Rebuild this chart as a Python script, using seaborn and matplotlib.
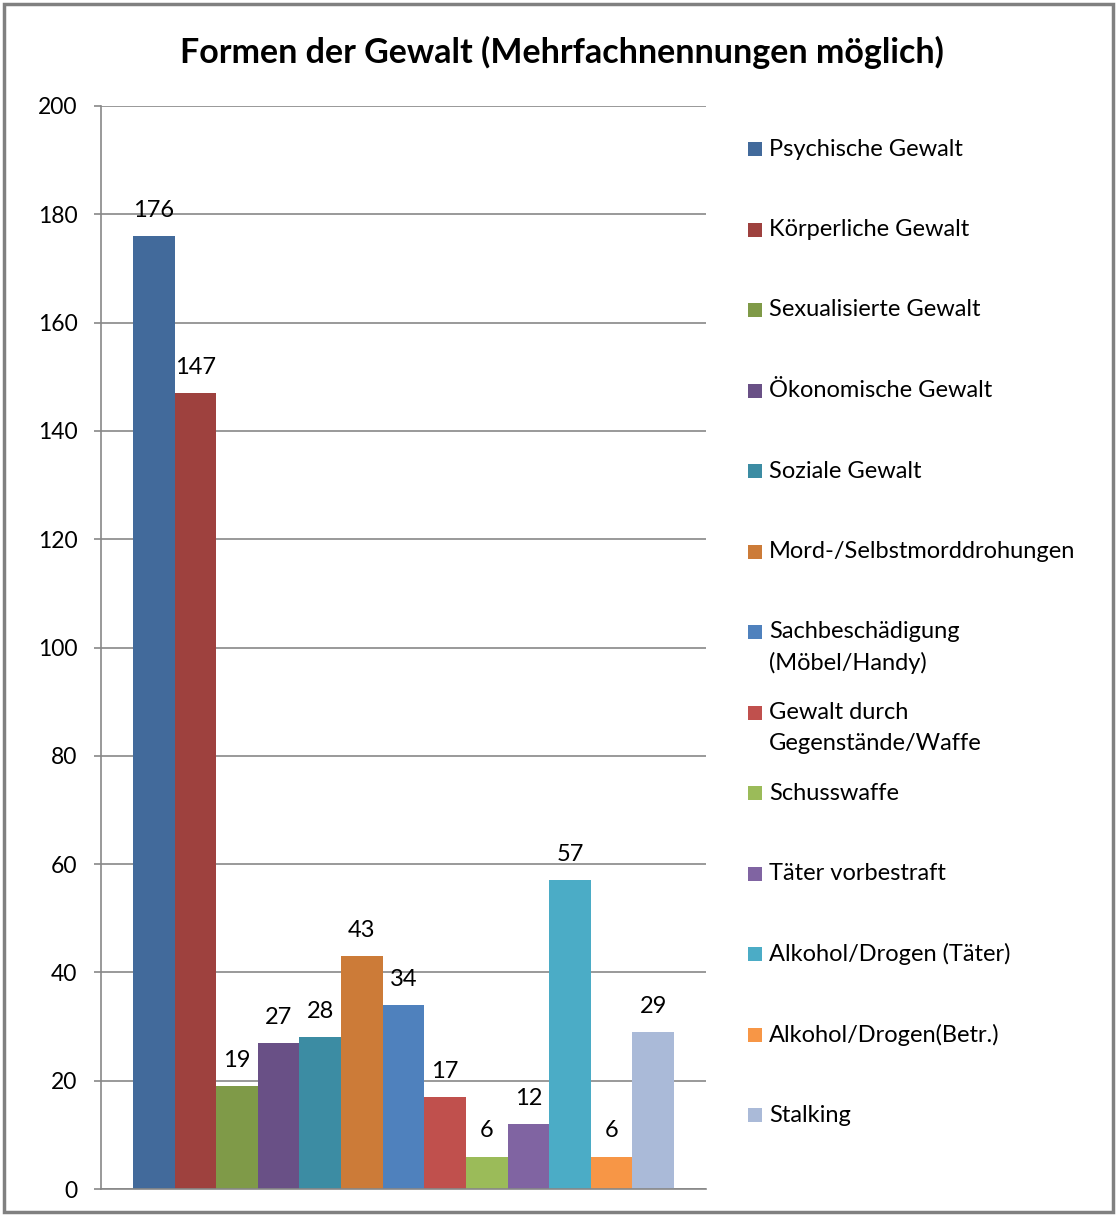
import matplotlib
matplotlib.use("Agg")
import matplotlib.pyplot as plt
import seaborn as sns
import pandas as pd
from matplotlib.patches import Rectangle

categories = ["Psychische Gewalt", "Körperliche Gewalt", "Sexualisierte Gewalt",
              "Ökonomische Gewalt", "Soziale Gewalt", "Mord-/Selbstmorddrohungen",
              "Sachbeschädigung\n(Möbel/Handy)", "Gewalt durch\nGegenstände/Waffe",
              "Schusswaffe", "Täter vorbestraft", "Alkohol/Drogen (Täter)",
              "Alkohol/Drogen(Betr.)", "Stalking"]
values = [176, 147, 19, 27, 28, 43, 34, 17, 6, 12, 57, 6, 29]
colors = ["#426A9B", "#9E413E", "#7F9A48", "#695086", "#3C8CA3", "#CC7B38",
          "#4F81BD", "#C0504D", "#9BBB59", "#8064A2", "#4BACC6", "#F79646", "#AABAD8"]
yticks = [0, 20, 40, 60, 80, 100, 120, 140, 160, 180, 200]
title = "Formen der Gewalt (Mehrfachnennungen möglich)"

sns.set_theme(style="white")
plt.rcParams['font.family'] = ['Lato', 'DejaVu Sans']

W, H = 1117, 1216
fig = plt.figure(figsize=(W / 100, H / 100), dpi=100)
ax = fig.add_axes([101 / W, 1 - 1189 / H, (706 - 101) / W, (1189 - 106) / H])

df = pd.DataFrame({"grp": [""] * len(values), "cat": categories, "val": values})
sns.barplot(data=df, x="grp", y="val", hue="cat", hue_order=categories,
            palette=colors, width=541 / 605, saturation=1, legend=False, ax=ax,
            edgecolor="none", linewidth=0)

for cont in ax.containers:
    ax.bar_label(cont, padding=11, fontsize=17, color="black")

ax.set_xlim(-0.5, 0.5)
ax.set_ylim(0, 200)
ax.set_yticks(yticks)
ax.set_yticklabels([str(t) for t in yticks], fontsize=16.5)
ax.set_xticks([])
ax.set_xlabel("")
ax.set_ylabel("")
ax.yaxis.grid(True, color="#878787", linewidth=1.2)
ax.set_axisbelow(True)
for s in ["top", "right"]:
    ax.spines[s].set_visible(False)
for s in ["left", "bottom"]:
    ax.spines[s].set_color("#878787")
    ax.spines[s].set_linewidth(1.2)
ax.tick_params(axis="y", which="both", left=True, length=5, width=1.2,
               color="#878787", pad=12, labelcolor="black")

fig.text(562 / W, 1 - 52 / H, title, ha="center", va="center",
         fontsize=24.5, fontweight="bold", color="black")

# legend
for i, (lab, col) in enumerate(zip(categories, colors)):
    yc = 149 + 80.5 * i
    fig.patches.append(Rectangle((748 / W, 1 - (yc + 7) / H), 14 / W, 14 / H,
                                 transform=fig.transFigure, facecolor=col,
                                 edgecolor="none"))
    for j, line in enumerate(lab.split("\n")):
        fig.text(769 / W, 1 - (yc + 31 * j) / H, line, ha="left", va="center",
                 fontsize=17, color="black")

# outer frame
fig.patches.append(Rectangle((4 / W, 4 / H), (W - 8) / W, (H - 8) / H,
                             transform=fig.transFigure, facecolor="none",
                             edgecolor="#808080", linewidth=2.5))

fig.savefig("out.png", dpi=100)
